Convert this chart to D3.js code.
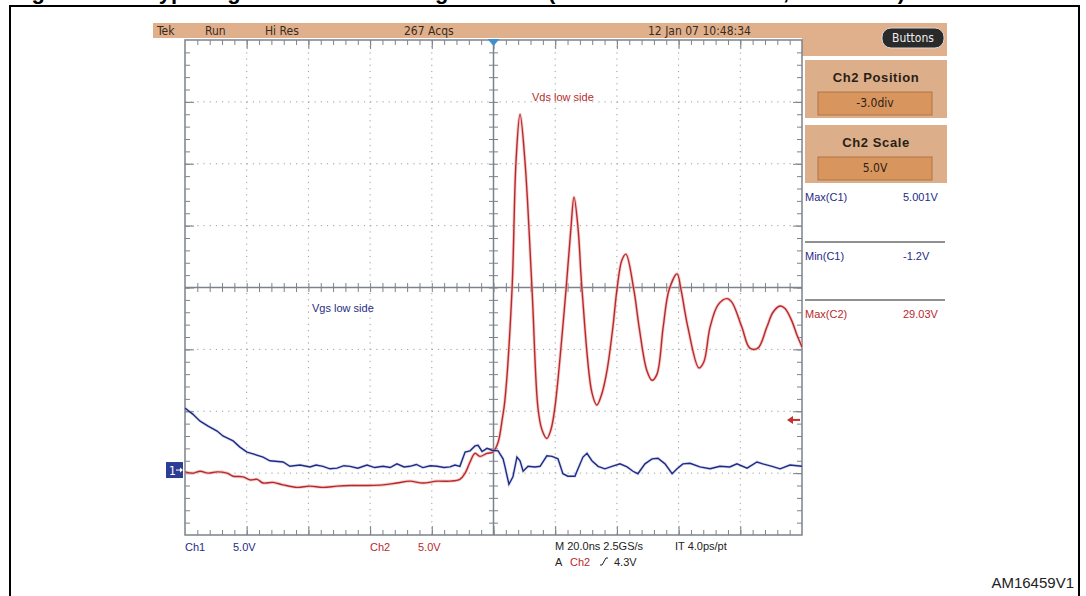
<!DOCTYPE html>
<html>
<head>
<meta charset="utf-8">
<script src="https://cdn.jsdelivr.net/npm/d3@7"></script>
<style>
  html, body { margin: 0; padding: 0; background: #fff; }
  svg { display: block; }
  .ui { font-family: "Liberation Sans Narrow", "DejaVu Sans Condensed", "Arial Narrow", sans-serif; }
  .sans { font-family: "Liberation Sans", Arial, sans-serif; }
  .grat line { stroke: #7c828c; stroke-width: 1; }
</style>
</head>
<body>
<svg id="chart" width="1086" height="596"></svg>
<script>
// scope settings
const TIME_DOMAIN = [-100, 100];   // ns, 20 ns/div, trigger at centre
const VOLTS_PER_DIV = 5;
const CH1_POSITION = -2.95;        // div
const CH2_POSITION = -3.0;         // div
const TRIGGER_LEVEL = 4.3;         // V on Ch2

// Ch1 : Vgs low side  [time ns, volts]
const vgsTrace = [
  [-100, 5.0], [-97.4, 4.5], [-95.1, 3.95], [-92.5, 3.55], [-89.6, 3.15], [-87.7, 2.75],
  [-84.4, 2.35], [-82.2, 1.85], [-79.9, 1.45], [-77.9, 1.3], [-74.7, 1.05], [-72.5, 0.75],
  [-68.2, 0.65], [-66.0, 0.3], [-62.7, 0.4], [-59.5, 0.25], [-57.5, 0.4], [-55.3, 0.3],
  [-53.0, 0.1], [-50.7, 0.15], [-48.5, 0.35], [-46.5, 0.3], [-44.0, 0.15], [-41.0, 0.4],
  [-38.5, 0.2], [-35.8, 0.3], [-33.5, 0.2], [-31.3, 0.5], [-29.0, 0.25], [-27.1, 0.3],
  [-25.0, 0.45], [-22.9, 0.2], [-20.5, 0.35], [-18.3, 0.3], [-16.0, 0.2], [-14.1, 0.25],
  [-12.5, 0.4], [-10.9, 0.3], [-9.2, 1.45], [-7.6, 1.55], [-6.0, 1.95], [-5.0, 2.0],
  [-3.7, 1.5], [-2.1, 1.75], [-0.5, 1.6], [1.5, 1.55], [3.1, 0.9], [3.7, 0.3],
  [5.0, -1.15], [6.3, -0.55], [7.6, 1.05], [8.6, 0.75], [9.6, -0.1], [11.2, 0.3],
  [13.4, 0.25], [15.1, 0.3], [17.3, 1.15], [19.0, 1.1], [20.9, 0.9], [22.5, -0.3],
  [24.1, -0.5], [26.4, -0.5], [27.4, 0.1], [29.0, 1.05], [30.3, 1.35], [31.9, 0.75],
  [33.9, 0.3], [36.1, 0.1], [38.4, 0.3], [41.0, 0.5], [43.3, 0.25], [45.2, -0.1],
  [46.8, -0.3], [49.1, 0.5], [51.4, 0.9], [53.3, 0.95], [55.6, 0.5], [57.9, -0.3],
  [59.5, 0.1], [61.4, 0.5], [63.7, 0.55], [66.9, 0.25], [70.2, 0.1], [73.4, 0.3],
  [76.6, 0.25], [78.9, 0.5], [82.2, 0.15], [85.4, 0.65], [87.3, 0.5], [90.3, 0.3],
  [92.9, 0.1], [96.1, 0.4], [100, 0.3]
];

// Ch2 : Vds low side  [time ns, volts]
const vdsTrace = [
  [-100, 0.1], [-97.4, 0.0], [-95.1, 0.15], [-92.5, 0.0], [-89.6, 0.1], [-86.4, 0.0],
  [-84.4, -0.25], [-81.2, -0.3], [-78.9, -0.55], [-76.6, -0.5], [-74.7, -0.8], [-71.5, -0.75],
  [-68.2, -0.95], [-63.7, -1.15], [-59.5, -1.05], [-55.3, -1.15], [-50.7, -1.05], [-46.5, -1.0],
  [-41.0, -1.0], [-35.8, -0.95], [-31.3, -0.8], [-27.1, -0.65], [-22.9, -0.8], [-18.3, -0.65],
  [-14.1, -0.65], [-10.9, -0.5], [-9.2, 0.0], [-7.6, 0.9], [-6.0, 1.6], [-4.4, 1.35],
  [-2.1, 1.6], [-0.2, 1.7], [1.5, 2.5], [2.8, 4.3], [3.7, 5.9], [6.0, 14.8],
  [7.3, 25.2], [8.6, 29.0], [10.2, 25.2], [12.5, 14.8], [14.4, 5.3], [15.7, 3.5],
  [17.3, 2.8], [18.6, 3.5], [19.9, 5.3], [23.5, 14.8], [25.1, 19.8], [26.1, 22.3],
  [27.4, 19.8], [28.7, 14.8], [31.9, 6.5], [33.5, 5.5], [35.1, 6.4], [36.8, 8.3],
  [38.7, 11.8], [40.0, 14.8], [41.6, 17.2], [42.9, 17.7], [45.5, 14.8], [47.2, 11.8],
  [49.7, 8.3], [51.4, 7.5], [53.0, 8.0], [55.0, 11.8], [56.9, 14.8], [59.5, 16.1],
  [60.8, 14.8], [63.0, 11.8], [66.6, 8.5], [68.2, 9.0], [70.2, 11.8], [72.8, 13.6],
  [75.7, 14.1], [77.3, 13.8], [80.5, 11.8], [83.1, 10.1], [85.7, 10.1], [88.6, 11.8],
  [90.6, 13.0], [92.9, 13.5], [94.5, 13.3], [96.7, 12.3], [98.3, 11.2], [100, 10.2]
];

const headerItems = [["Tek", 157], ["Run", 205], ["Hi Res", 265], ["267 Acqs", 404], ["12 Jan 07 10:48:34", 648]];
const measureNames = ["Max(C1)", "Min(C1)", "Max(C2)"];
const measureValues = ["5.001V", "-1.2V", "29.03V"];
const measureChannel = [1, 1, 2];

const NAVY = "#1f2b85";
const RED = "#b8292b";
const TAN = "#dfb08b";

const svg = d3.select("#chart");

// page frame and the cut caption at the very top
svg.append("rect")
    .attr("x", 10).attr("y", 6).attr("width", 1069).attr("height", 600)
    .attr("fill", "none").attr("stroke", "#000").attr("stroke-width", 2);
const caption = svg.append("text").attr("class", "sans")
    .attr("y", -1.5).attr("font-size", 22).attr("font-weight", "bold");
caption.append("tspan").attr("x", 12).text("Figure 25.");
caption.append("tspan").attr("x", 147).text("Typical gate and drain voltages");
caption.append("tspan").attr("x", 548).attr("textLength", 357).attr("lengthAdjust", "spacing")
    .text("(low side MOSFET, turn-on)");

// header bar
svg.append("rect").attr("x", 153).attr("y", 23).attr("width", 794).attr("height", 15).attr("fill", TAN);
svg.append("rect").attr("x", 802).attr("y", 23).attr("width", 145).attr("height", 33).attr("fill", TAN);
svg.selectAll(".hdr").data(headerItems).enter().append("text")
    .attr("class", "ui hdr")
    .attr("x", d => d[1]).attr("y", 35)
    .attr("font-size", 12).attr("fill", "#3a2a1e")
    .text(d => d[0]);

// "Buttons" pill
svg.append("rect").attr("x", 882).attr("y", 28).attr("width", 62).attr("height", 20).attr("rx", 9)
    .attr("fill", "#2a2a2a").attr("stroke", "#d8d8d8").attr("stroke-width", 1);
svg.append("text").attr("class", "ui").attr("x", 913).attr("y", 42).attr("text-anchor", "middle")
    .attr("font-size", 12).attr("fill", "#eeeeee").text("Buttons");

// side menu boxes
const menuBox = (top, title, value) => {
    svg.append("rect").attr("x", 805).attr("y", top).attr("width", 142).attr("height", 58).attr("fill", "#dcae8a");
    svg.append("text").attr("class", "sans").attr("x", 876).attr("y", top + 22)
        .attr("text-anchor", "middle").attr("font-size", 13).attr("font-weight", "bold")
        .attr("letter-spacing", 0.6).attr("fill", "#2a1e16").text(title);
    svg.append("rect").attr("x", 818).attr("y", top + 32).attr("width", 114).attr("height", 23)
        .attr("fill", "#d8955e").attr("stroke", "#b27444").attr("stroke-width", 1);
    svg.append("text").attr("class", "ui").attr("x", 875).attr("y", top + 47)
        .attr("text-anchor", "middle").attr("font-size", 12).attr("fill", "#2a1e16").text(value);
};
menuBox(60, "Ch2 Position", "-3.0div");
menuBox(125, "Ch2 Scale", "5.0V");

// measurement readouts
measureNames.forEach((name, i) => {
    const yBase = [201, 260, 318][i];
    const color = measureChannel[i] === 1 ? NAVY : RED;
    svg.append("text").attr("class", "sans").attr("x", 805).attr("y", yBase)
        .attr("font-size", 11).attr("fill", color).text(name);
    svg.append("text").attr("class", "sans").attr("x", 903).attr("y", yBase)
        .attr("font-size", 11).attr("fill", color).text(measureValues[i]);
});
[242, 300].forEach(yy => {
    svg.append("line").attr("x1", 805).attr("x2", 945).attr("y1", yy).attr("y2", yy)
        .attr("stroke", "#222").attr("stroke-width", 1);
});

// graticule
const x = d3.scaleLinear().domain(TIME_DOMAIN).range([185, 802]);
const div = d3.scaleLinear().domain([-4, 4]).range([535, 40]);
const ch1Y = v => div(v / VOLTS_PER_DIV + CH1_POSITION);
const ch2Y = v => div(v / VOLTS_PER_DIV + CH2_POSITION);

const majorTimes = d3.range(-80, 81, 20);
const majorDivs = d3.range(-3, 4, 1);
const minorTimes = d3.range(-96, 97, 4);
const minorDivs = d3.range(-3.8, 3.81, 0.2);

svg.append("g").selectAll("line").data(majorTimes.filter(t => t !== 0)).enter().append("line")
    .attr("x1", d => x(d)).attr("x2", d => x(d)).attr("y1", div(4)).attr("y2", div(-4))
    .attr("stroke", "#9c9c9c").attr("stroke-width", 1).attr("stroke-dasharray", "1.2,4.97");
svg.append("g").selectAll("line").data(majorDivs.filter(d => d !== 0)).enter().append("line")
    .attr("x1", x(-100)).attr("x2", x(100)).attr("y1", d => div(d)).attr("y2", d => div(d))
    .attr("stroke", "#9c9c9c").attr("stroke-width", 1).attr("stroke-dasharray", "1.2,4.97");

const tickAxis = (axis, values, size, transform) => {
    svg.append("g").attr("class", "grat").attr("transform", transform)
        .call(axis.tickValues(values).tickSize(size).tickFormat(""))
        .call(g => g.select(".domain").remove());
};
// edges
tickAxis(d3.axisBottom(x), minorTimes, 5, `translate(0,${div(4)})`);
tickAxis(d3.axisBottom(x), majorTimes, 9, `translate(0,${div(4)})`);
tickAxis(d3.axisTop(x), minorTimes, 5, `translate(0,${div(-4)})`);
tickAxis(d3.axisTop(x), majorTimes, 9, `translate(0,${div(-4)})`);
tickAxis(d3.axisRight(div), minorDivs, 5, `translate(${x(-100)},0)`);
tickAxis(d3.axisRight(div), majorDivs, 9, `translate(${x(-100)},0)`);
tickAxis(d3.axisLeft(div), minorDivs, 5, `translate(${x(100)},0)`);
tickAxis(d3.axisLeft(div), majorDivs, 9, `translate(${x(100)},0)`);
// centre cross
tickAxis(d3.axisBottom(x), minorTimes, 4.5, `translate(0,${div(0)})`);
tickAxis(d3.axisTop(x), minorTimes, 4.5, `translate(0,${div(0)})`);
tickAxis(d3.axisRight(div), minorDivs, 4.5, `translate(${x(0)},0)`);
tickAxis(d3.axisLeft(div), minorDivs, 4.5, `translate(${x(0)},0)`);

svg.append("rect")
    .attr("x", x(-100)).attr("y", div(4)).attr("width", x(100) - x(-100)).attr("height", div(-4) - div(4))
    .attr("fill", "none").attr("stroke", "#7c828c").attr("stroke-width", 1.5);
svg.append("line").attr("x1", x(-100)).attr("x2", x(100)).attr("y1", div(0)).attr("y2", div(0))
    .attr("stroke", "#7c828c").attr("stroke-width", 1.5);
svg.append("line").attr("x1", x(0)).attr("x2", x(0)).attr("y1", div(4)).attr("y2", div(-4))
    .attr("stroke", "#7c828c").attr("stroke-width", 1.5);

// traces
svg.append("clipPath").attr("id", "screen").append("rect")
    .attr("x", x(-100)).attr("y", div(4)).attr("width", x(100) - x(-100)).attr("height", div(-4) - div(4));
const traces = svg.append("g").attr("clip-path", "url(#screen)");

const vgsLine = d3.line().x(d => x(d[0])).y(d => ch1Y(d[1]));
const vdsLine = d3.line().x(d => x(d[0])).y(d => ch2Y(d[1])).curve(d3.curveCatmullRom.alpha(0.5));

traces.append("path").attr("d", vdsLine(vdsTrace))
    .attr("fill", "none").attr("stroke", "#eeaaaa").attr("stroke-width", 3.2).attr("opacity", 0.6);
traces.append("path").attr("d", vdsLine(vdsTrace))
    .attr("fill", "none").attr("stroke", RED).attr("stroke-width", 1.4);
traces.append("path").attr("d", vgsLine(vgsTrace))
    .attr("fill", "none").attr("stroke", "#a7aede").attr("stroke-width", 3).attr("opacity", 0.4);
traces.append("path").attr("d", vgsLine(vgsTrace))
    .attr("fill", "none").attr("stroke", NAVY).attr("stroke-width", 1.4);

// trace labels
svg.append("text").attr("class", "sans").attr("x", 532).attr("y", 101)
    .attr("font-size", 11).attr("fill", RED).text("Vds low side");
svg.append("text").attr("class", "sans").attr("x", 312).attr("y", 312)
    .attr("font-size", 11).attr("fill", NAVY).text("Vgs low side");

// trigger position and level markers
const tx = x(0);
svg.append("path").attr("d", `M${tx - 6},39 L${tx + 6},39 L${tx},46 Z`).attr("fill", "#3d8fd0");
const ty = ch2Y(TRIGGER_LEVEL);
svg.append("line").attr("x1", 791).attr("x2", 800).attr("y1", ty).attr("y2", ty)
    .attr("stroke", "#c23030").attr("stroke-width", 2);
svg.append("path").attr("d", `M787,${ty} L793,${ty - 4} L793,${ty + 4} Z`).attr("fill", "#c23030");

// Ch1 ground marker
const gy = ch1Y(0);
svg.append("rect").attr("x", 166).attr("y", gy - 8).attr("width", 17).attr("height", 16).attr("fill", "#2c3e94");
svg.append("text").attr("class", "ui").attr("x", 169).attr("y", gy + 5)
    .attr("font-size", 12).attr("fill", "#fff").text("1");
svg.append("line").attr("x1", 176).attr("x2", 182).attr("y1", gy).attr("y2", gy)
    .attr("stroke", "#fff").attr("stroke-width", 1);
svg.append("path").attr("d", `M183,${gy} L180,${gy - 2.5} L180,${gy + 2.5} Z`).attr("fill", "#fff");

// bottom readouts
const bottom = [
    ["Ch1", 185, 551, NAVY], ["5.0V", 233, 551, NAVY],
    ["Ch2", 370, 551, RED], ["5.0V", 418, 551, RED],
    ["M 20.0ns 2.5GS/s", 555, 550, "#222"], ["IT 4.0ps/pt", 675, 550, "#222"],
    ["A", 555, 566, "#222"], ["Ch2", 570, 566, RED], ["4.3V", 614, 566, "#222"]
];
svg.selectAll(".btm").data(bottom).enter().append("text")
    .attr("class", "sans btm")
    .attr("x", d => d[1]).attr("y", d => d[2])
    .attr("font-size", 11).attr("fill", d => d[3])
    .text(d => d[0]);
svg.append("path").attr("d", "M600,565 L602,565 L606,558 L608,558")
    .attr("fill", "none").attr("stroke", "#222").attr("stroke-width", 1);

svg.append("text").attr("class", "sans").attr("x", 1074).attr("y", 588)
    .attr("text-anchor", "end").attr("font-size", 15).attr("fill", "#222").text("AM16459V1");
</script>
</body>
</html>
